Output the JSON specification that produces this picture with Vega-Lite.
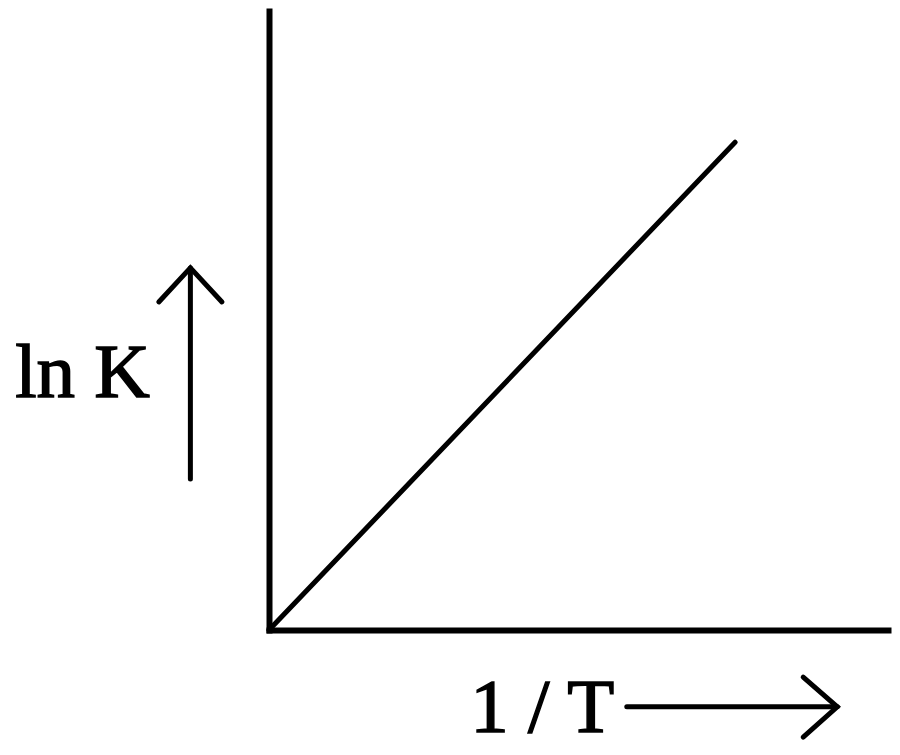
{
  "$schema": "https://vega.github.io/schema/vega-lite/v6.json",
  "width": 619,
  "height": 619,
  "autosize": "none",
  "padding": {"left": 269, "top": 11, "right": 12, "bottom": 125},
  "background": "white",
  "config": {
    "view": {"stroke": null},
    "axis": {"domainColor": "black", "domainWidth": 6, "domainCap": "square", "ticks": false, "labels": false, "grid": false, "title": null}
  },
  "datasets": {
    "curve": [
      {"invT": 0, "lnK": 0},
      {"invT": 0.753, "lnK": 0.788}
    ],
    "arrows": [
      {"seg": "upShaft", "ord": 1, "x": -0.127, "y": 0.244},
      {"seg": "upShaft", "ord": 2, "x": -0.127, "y": 0.585},
      {"seg": "upHead", "ord": 1, "x": -0.178, "y": 0.530},
      {"seg": "upHead", "ord": 2, "x": -0.127, "y": 0.585},
      {"seg": "upHead", "ord": 3, "x": -0.076, "y": 0.530},
      {"seg": "rightShaft", "ord": 1, "x": 0.578, "y": -0.124},
      {"seg": "rightShaft", "ord": 2, "x": 0.918, "y": -0.124},
      {"seg": "rightHead", "ord": 1, "x": 0.863, "y": -0.076},
      {"seg": "rightHead", "ord": 2, "x": 0.918, "y": -0.124},
      {"seg": "rightHead", "ord": 3, "x": 0.863, "y": -0.173}
    ],
    "labels": [
      {"text": "ln K", "x": -0.410, "y": 0.376},
      {"text": "1 / T", "x": 0.325, "y": -0.165}
    ]
  },
  "layer": [
    {
      "data": {"name": "curve"},
      "mark": {"type": "line", "color": "black", "strokeWidth": 5, "strokeCap": "round"},
      "encoding": {
        "x": {"field": "invT", "type": "quantitative", "scale": {"domain": [0, 1], "nice": false, "zero": false}, "axis": {"orient": "bottom"}},
        "y": {"field": "lnK", "type": "quantitative", "scale": {"domain": [0, 1], "nice": false, "zero": false}, "axis": {"orient": "left"}}
      }
    },
    {
      "data": {"name": "arrows"},
      "mark": {"type": "line", "color": "black", "strokeWidth": 5, "strokeCap": "round", "strokeJoin": "miter"},
      "encoding": {
        "x": {"field": "x", "type": "quantitative"},
        "y": {"field": "y", "type": "quantitative"},
        "detail": {"field": "seg"},
        "order": {"field": "ord"}
      }
    },
    {
      "data": {"name": "labels"},
      "mark": {"type": "text", "align": "left", "baseline": "alphabetic", "font": "Liberation Serif", "fontSize": 77, "color": "black", "stroke": "black", "strokeWidth": 1.5},
      "encoding": {
        "x": {"field": "x", "type": "quantitative"},
        "y": {"field": "y", "type": "quantitative"},
        "text": {"field": "text"}
      }
    }
  ]
}
